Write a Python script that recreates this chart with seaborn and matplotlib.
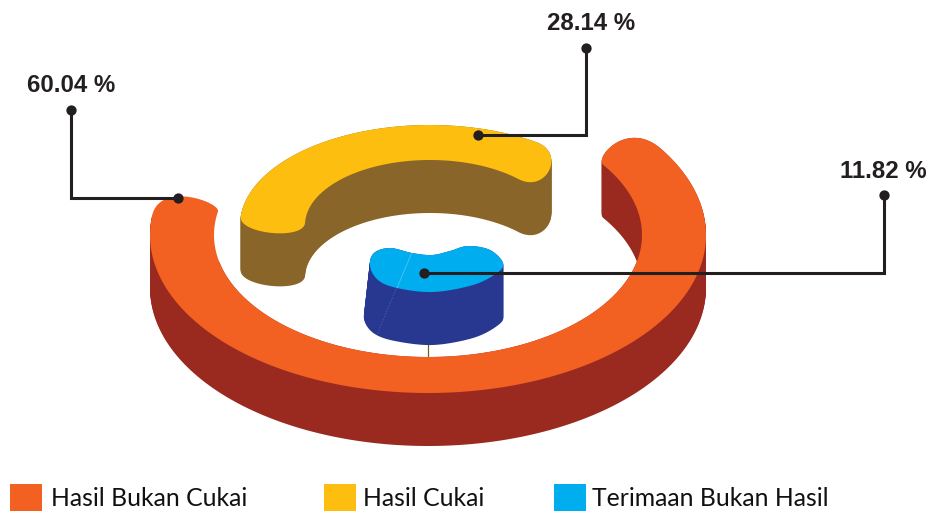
import numpy as np
import pandas as pd
import matplotlib
matplotlib.use("Agg")
import matplotlib.pyplot as plt
from matplotlib.patches import Rectangle
import seaborn as sns

categories = ["Hasil Bukan Cukai", "Hasil Cukai", "Terimaan Bukan Hasil"]
shares = [60.04, 28.14, 11.82]
tick_labels = ["60.04 %", "28.14 %", "11.82 %"]
top_colours = ["#F26122", "#FDBE10", "#00AEEF"]
side_colours = ["#9A2A20", "#8A6529", "#283891"]
INK = "#231F20"
DEPTH = 53

sns.set_theme(style="white")
plt.rcParams["font.family"] = ["Liberation Sans", "DejaVu Sans"]

fig = plt.figure(figsize=(9.29, 5.11), dpi=100)
ax = fig.add_axes([0, 0, 1, 1])
ax.set_xlim(0, 929)
ax.set_ylim(511, 0)
ax.axis("off")


def ell(c, rx, ry, t):
    t = np.radians(t)
    return np.column_stack([c[0] + rx * np.cos(t), c[1] - ry * np.sin(t)])


def tangent(rx, ry, t, sign):
    r = np.radians(t)
    v = np.array([-rx * np.sin(r), -ry * np.cos(r)]) * sign
    return v / np.hypot(*v)


def cubic(p0, c1, c2, p1, n=40):
    s = np.linspace(0, 1, n)[:, None]
    return (1 - s) ** 3 * p0 + 3 * (1 - s) ** 2 * s * c1 + 3 * (1 - s) * s ** 2 * c2 + s ** 3 * p1


def ring_band(value, c, out_r, in_r, t0, deg_per_pct, d0, d1, start_cap, end_cap):
    """start_cap / end_cap are (outer bulge, inner bulge)."""
    t1 = t0 + value * deg_per_pct
    ts_out = np.linspace(t0, t1, 200)
    ts_in = np.linspace(t1 + d1, t0 + d0, 200)
    o = ell(c, *out_r, ts_out)
    i = ell(c, *in_r, ts_in)
    cap1 = cubic(o[-1], o[-1] + end_cap[0] * tangent(*out_r, t1, 1),
                 i[0] + end_cap[1] * tangent(*in_r, t1 + d1, 1), i[0])
    cap0 = cubic(i[-1], i[-1] + start_cap[1] * tangent(*in_r, t0 + d0, -1),
                 o[0] + start_cap[0] * tangent(*out_r, t0, -1), o[0])
    return np.vstack([o, cap1, i, cap0])


def catmull(pts, n=16):
    pts = np.asarray(pts, float)
    out = []
    m = len(pts)
    for k in range(m):
        p0, p1, p2, p3 = pts[k - 1], pts[k], pts[(k + 1) % m], pts[(k + 2) % m]
        for u in np.linspace(0, 1, n, endpoint=False):
            out.append(0.5 * (2 * p1 + (p2 - p0) * u + (2 * p0 - 5 * p1 + 4 * p2 - p3) * u ** 2
                              + (3 * p1 - p0 - 3 * p2 + p3) * u ** 3))
    return np.array(out)


def extrude(poly, colour, z, lean=None):
    for d in range(0, DEPTH + 1):
        q = poly.copy()
        q[:, 1] += d
        if lean is not None:
            q[:, 0] += lean(poly[:, 0]) * d / DEPTH
        ax.fill(q[:, 0], q[:, 1], color=colour, lw=0, zorder=z)


# outer ring
o_c, o_out, o_in = (428, 235), (278, 158), (214, 122)
o_k = 220 / 60.04
orange = ring_band(shares[0], o_c, o_out, o_in, 173, o_k, -4, 2, (36, 10), (45, 12))
orange_wall = ring_band(shares[0], o_c, o_out, o_in, 173, o_k, 20, 2, (5, 5), (45, 12))
extrude(orange_wall, side_colours[0], 1)
ax.fill(orange[:, 0], orange[:, 1], color=top_colours[0], lw=0, zorder=2)

# inner ring
yellow = ring_band(shares[1], (430, 225), (190, 100), (125, 65), 56, 119 / 28.14, -11, 3, (32, 32), (18, 18))
extrude(yellow, side_colours[1], 3)
ax.fill(yellow[:, 0], yellow[:, 1], color=top_colours[1], lw=0, zorder=4)

# centre blob: outline offsets per unit share around its centre
blob_c = np.array([436.0, 270.0])
blob_dx = [-66, -62, -46, -24, -4, 14, 32, 54, 67, 61, 37, -3, -39, -58]
blob_dy = [-4, -17, -22, -17, -15, -19, -24, -20, -7, 3, 15, 22, 18, 10]
scale = shares[2] / 11.82
blob = catmull(np.column_stack([blob_dx, blob_dy]) * scale + blob_c)
ax.plot([428, 428], [340, 357], color="#7A5C2A", lw=0.9, zorder=1.5)
extrude(blob, side_colours[2], 5, lean=lambda x: -6 * np.clip((436 - x) / 66, 0, 1) ** 2)
ax.fill(blob[:, 0], blob[:, 1], color=top_colours[2], lw=0, zorder=6)
ax.plot([411.5, 397], [253.5, 288], color="#4DC4F2", lw=0.6, zorder=7)
ax.plot([396, 377], [289, 335], color="#4A57A6", lw=0.6, ls=(0, (2, 1.5)), zorder=7)

# leaders
leader_x = [[71, 71, 178], [586, 586, 478], [884, 884, 424]]
leader_y = [[110, 198, 198], [48, 135, 135], [195, 273, 273]]
for lx, ly in zip(leader_x, leader_y):
    ax.plot(lx, ly, color=INK, lw=2.2, solid_joinstyle="miter", solid_capstyle="butt", zorder=8)
    dots = pd.DataFrame({"x": [lx[0], lx[-1]], "y": [ly[0], ly[-1]]})
    sns.scatterplot(data=dots, x="x", y="y", ax=ax, s=55, color=INK, linewidth=0, zorder=9)
ax.set_xlim(0, 929)
ax.set_ylim(511, 0)
ax.axis("off")

label_x = [71, 591, 883]
label_y = [85, 24, 171]
for t, x, y in zip(tick_labels, label_x, label_y):
    ax.text(x, y, t, ha="center", va="center", fontsize=17.3, fontweight="bold", color=INK)

# legend
swatch_x = [10, 324, 554]
text_x = [51, 363, 592]
for name, sx, tx, col in zip(categories, swatch_x, text_x, top_colours):
    ax.add_patch(Rectangle((sx, 484), 32, 27, color=col, lw=0, zorder=3))
    ax.text(tx, 499, name, ha="left", va="center", fontsize=17.85, color="#111111", family="Lato")

fig.savefig("out.png", dpi=100)
